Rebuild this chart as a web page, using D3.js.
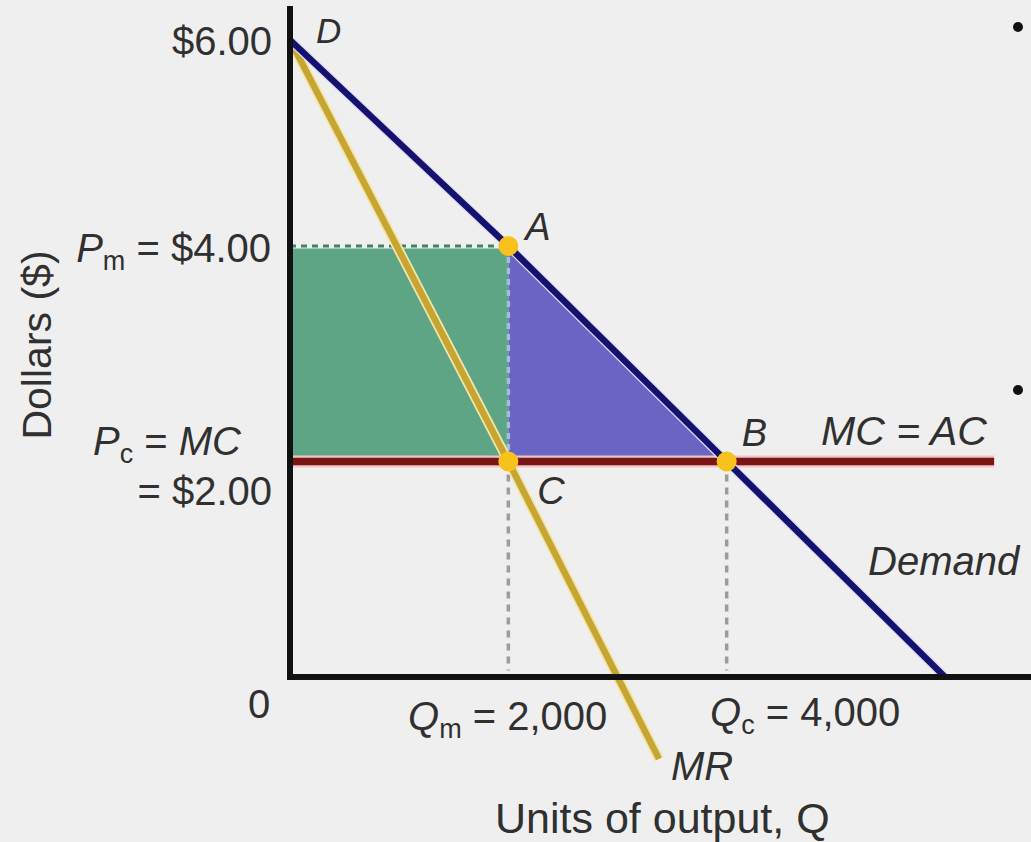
<!DOCTYPE html>
<html>
<head>
<meta charset="utf-8">
<script src="https://cdn.jsdelivr.net/npm/d3@7"></script>
<style>
  html, body { margin: 0; padding: 0; background: #efefef; }
  svg { display: block; }
  text { font-family: "Liberation Sans", Arial, sans-serif; fill: #303030; }
</style>
</head>
<body>
<svg id="chart" width="1031" height="842"></svg>
<script>
// demand curve  P = 6 - Q/1000
var demandQ = [0, 2000, 4000, 6000]
var demandP = [6, 4, 2, 0]
// marginal revenue  P = 6 - 2Q/1000 (runs past the axis to its label)
var mrQ = [0, 2000, 3000, 3380]
var mrP = [6, 2, 0, -0.76]
// marginal cost = average cost
var mcQ = [0, 6450]
var mcP = [2, 2]
// monopoly and competitive outcomes
var pointNames = ["A", "B", "C"]
var pointQ = [2000, 4000, 2000]
var pointP = [4, 2, 2]
var priceMonopoly = 4, priceCompetitive = 2
var qtyMonopoly = 2000, qtyCompetitive = 4000

var W = 1031, H = 842
var svg = d3.select("#chart")

var x = d3.scaleLinear()
    .domain([0, 6000])
    .range([290, 945])

// the printed figure is not quite evenly spaced vertically
var y = d3.scaleLinear()
    .domain([0, 4, 6])
    .range([677, 246, 40])

var line = d3.line()
    .x(function(d) { return x(d[0]) })
    .y(function(d) { return y(d[1]) })

function pairs(qs, ps) {
    return qs.map(function(q, i) { return [q, ps[i]] })
}

svg.append("rect")
    .attr("width", W).attr("height", H)
    .attr("fill", "#efefef")

// consumer surplus lost to monopoly profit (green) and deadweight loss (blue)
svg.append("rect")
    .attr("x", x(0))
    .attr("y", y(priceMonopoly))
    .attr("width", x(qtyMonopoly) - x(0))
    .attr("height", y(priceCompetitive) - y(priceMonopoly))
    .attr("fill", "#5da584")

svg.append("path")
    .attr("d", line([[qtyMonopoly, priceMonopoly], [qtyMonopoly, priceCompetitive], [qtyCompetitive, priceCompetitive]]) + "Z")
    .attr("fill", "#6965c5")

// guide lines
svg.append("path")
    .attr("d", line([[0, priceMonopoly], [qtyMonopoly, priceMonopoly]]))
    .attr("stroke", "#e9f3ee").attr("stroke-width", 5).attr("fill", "none")
svg.append("path")
    .attr("d", line([[0, priceMonopoly], [qtyMonopoly, priceMonopoly]]))
    .attr("stroke", "#4d7b69").attr("stroke-width", 3)
    .attr("stroke-dasharray", "6,5").attr("fill", "none")

svg.append("path")
    .attr("d", line([[qtyMonopoly, priceMonopoly], [qtyMonopoly, priceCompetitive]]))
    .attr("stroke", "#a3bcd8").attr("stroke-width", 3.5)
    .attr("stroke-dasharray", "6,5").attr("fill", "none")
svg.append("path")
    .attr("d", line([[qtyMonopoly, priceCompetitive], [qtyMonopoly, 0.06]]))
    .attr("stroke", "#9c9c9c").attr("stroke-width", 3.5)
    .attr("stroke-dasharray", "7,6").attr("fill", "none")
svg.append("path")
    .attr("d", line([[qtyCompetitive, priceCompetitive], [qtyCompetitive, 0.06]]))
    .attr("stroke", "#9c9c9c").attr("stroke-width", 3.5)
    .attr("stroke-dasharray", "7,6").attr("fill", "none")

// MC = AC
svg.append("path")
    .attr("d", line(pairs(mcQ, mcP)))
    .attr("stroke", "#f1c6c6").attr("stroke-width", 12).attr("fill", "none")
svg.append("path")
    .attr("d", line(pairs(mcQ, mcP)))
    .attr("stroke", "#7a1515").attr("stroke-width", 7.5).attr("fill", "none")

// MR
svg.append("path")
    .attr("d", line(pairs(mrQ, mrP)))
    .attr("stroke", "#f2e6a8").attr("stroke-width", 10).attr("fill", "none")
svg.append("path")
    .attr("d", line(pairs(mrQ, mrP)))
    .attr("stroke", "#c7a533").attr("stroke-width", 6.5).attr("fill", "none")

// demand
svg.append("path")
    .attr("d", line(pairs(demandQ, demandP)))
    .attr("stroke", "#dcdcf4").attr("stroke-width", 9).attr("fill", "none")
svg.append("path")
    .attr("d", line(pairs(demandQ, demandP)))
    .attr("stroke", "#14126e").attr("stroke-width", 6.5).attr("fill", "none")

// axes
svg.append("path")
    .attr("d", line([[0, 6.3], [0, 0], [6800, 0]]))
    .attr("stroke", "#111").attr("stroke-width", 6)
    .attr("stroke-linecap", "square").attr("fill", "none")

// equilibrium points
svg.selectAll("circle.pt")
    .data(pointNames)
    .enter()
    .append("circle")
    .attr("class", "pt")
    .attr("cx", function(d, i) { return x(pointQ[i]) })
    .attr("cy", function(d, i) { return y(pointP[i]) })
    .attr("r", 10)
    .attr("fill", "#f7c21b")

// labels
function label(parts, px, py, anchor, size) {
    var t = svg.append("text")
        .attr("x", px).attr("y", py)
        .attr("text-anchor", anchor || "start")
        .attr("font-size", (size || 40) + "px")
    parts.forEach(function(p) {
        var s = t.append("tspan").text(p.t)
        if (p.i) s.attr("font-style", "italic")
        if (p.sub) s.attr("font-size", "27px").attr("dy", 8)
        if (p.up) s.attr("dy", -8)
    })
    return t
}

label([{t: "$6.00"}], 272, 55, "end")
label([{t: "P", i: 1}, {t: "m", sub: 1}, {t: " = $4.00", up: 1}], 271, 262, "end")
label([{t: "P", i: 1}, {t: "c", sub: 1}, {t: " = ", up: 1}, {t: "MC", i: 1}], 93, 455)
label([{t: "= $2.00"}], 272, 505, "end")
label([{t: "0"}], 248, 718)
label([{t: "Q", i: 1}, {t: "m", sub: 1}, {t: " = 2,000", up: 1}], 408, 730)
label([{t: "Q", i: 1}, {t: "c", sub: 1}, {t: " = 4,000", up: 1}], 710, 726)
label([{t: "MR", i: 1}], 671, 780)
label([{t: "Units of output, "}, {t: "Q"}], 495, 833, "start", 43)
label([{t: "D", i: 1}], 316, 43, "start", 35)
label([{t: "MC = AC", i: 1}], 821, 445, "start", 41)
label([{t: "Demand", i: 1}], 868, 575)

pointNames.forEach(function(n, i) {
    var off = [[17, -6], [15, -16], [29, 42]][i]
    label([{t: n, i: 1}], x(pointQ[i]) + off[0], y(pointP[i]) + off[1], "start", 38)
})

svg.append("text")
    .attr("transform", "translate(51,345) rotate(-90)")
    .attr("text-anchor", "middle")
    .attr("font-size", "41px")
    .text("Dollars ($)")

// stray bullet points from the slide text beside the figure
svg.selectAll("circle.bullet")
    .data([27, 390])
    .enter()
    .append("circle")
    .attr("class", "bullet")
    .attr("cx", 1018).attr("cy", function(d) { return d })
    .attr("r", 5)
    .attr("fill", "#111")
</script>
</body>
</html>
